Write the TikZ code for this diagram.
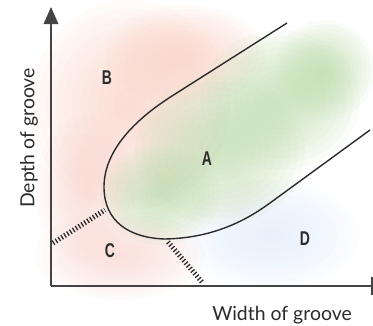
\documentclass[tikz,border=0pt]{standalone}
\usepackage{fontspec}
\usepackage{graphicx}
\setmainfont{Lato}
\newfontfamily\lblfont{Liberation Sans}
\definecolor{pinkB}{HTML}{F8CDBF}
\definecolor{pinkC}{HTML}{F8D2CB}
\definecolor{greenA}{HTML}{B9D8A5}
\definecolor{blueD}{HTML}{DCE9F9}
\definecolor{ink}{HTML}{2B2B2B}
\definecolor{axisc}{HTML}{444444}
\newcommand\softblob[4]{%
  \foreach \k in {1,...,12} {%
    \fill[#1, fill opacity=0.085] (#2) ellipse [x radius={#3*\k/12*1bp}, y radius={#4*\k/12*1bp}];
  }}
\tikzset{
  region/.style={font=\lblfont\bfseries\fontsize{20}{20}\selectfont, text=ink, inner sep=0pt},
  axislabel/.style={text=ink, inner sep=0pt, font=\fontsize{19.5}{19.5}\selectfont},
  boundary/.style={draw=ink, line width=1.4bp},
  hatch/.style={draw=ink, line width=5bp, dash pattern=on 1.3bp off 2.1bp},
  axisline/.style={draw=axisc, line width=1.6bp}
}
\begin{document}
\begin{tikzpicture}[x=1bp,y=-1bp]
\useasboundingbox (0,0) rectangle (373,326);
% soft colour blobs
\softblob{pinkB}{130,105}{100}{105}
\softblob{pinkB}{185,55}{80}{50}
\softblob{pinkC}{85,190}{50}{75}
\softblob{pinkC}{120,255}{85}{45}
\softblob{blueD}{270,235}{90}{55}
\softblob{greenA}{160,195}{60}{50}
\softblob{greenA}{220,150}{85}{75}
\softblob{greenA}{280,100}{80}{70}
\softblob{greenA}{325,70}{50}{50}
% axes
\coordinate (O) at (51,286);
\coordinate (ytop) at (51,23);
\coordinate (xend) at (372,286);
\draw[axisline] (O) -- (ytop);
\draw[axisline] (O) -- (xend);
\fill[axisc] (51,7) -- (43.5,24) -- (58.5,24) -- cycle;
\fill[axisc] (370.5,277) rectangle (373,295);
% boundary curve
\coordinate (u1) at (287,23);
\coordinate (u2) at (172,96);
\coordinate (lft) at (104,187);
\coordinate (bot) at (165,239);
\coordinate (l1) at (270,203);
\coordinate (l2) at (370,130);
\draw[boundary] (u1) -- (u2) .. controls (128,124) and (104,155) .. (lft)
  .. controls (104,222) and (130,238) .. (bot)
  .. controls (215,238) and (248,219) .. (l1) -- (l2);
% hatched borders
\coordinate (h1a) at (53,243);
\coordinate (h1b) at (105,210);
\coordinate (h2a) at (168,242);
\coordinate (h2b) at (202,282);
\draw[hatch] (h1a) -- (h1b);
\draw[hatch] (h2a) -- (h2b);
% labels
\node[region] (B) at (107,78) {\scalebox{0.7}[1]{B}};
\node[region] (A) at (207,159) {\scalebox{0.7}[1]{A}};
\node[region] (C) at (110,251) {\scalebox{0.7}[1]{C}};
\node[region] (D) at (305,239) {\scalebox{0.7}[1]{D}};
\node[axislabel] (xl) at (282,315) {Width of groove};
\node[axislabel, rotate=90] (yl) at (29,138) {Depth of groove};
\end{tikzpicture}
\end{document}
